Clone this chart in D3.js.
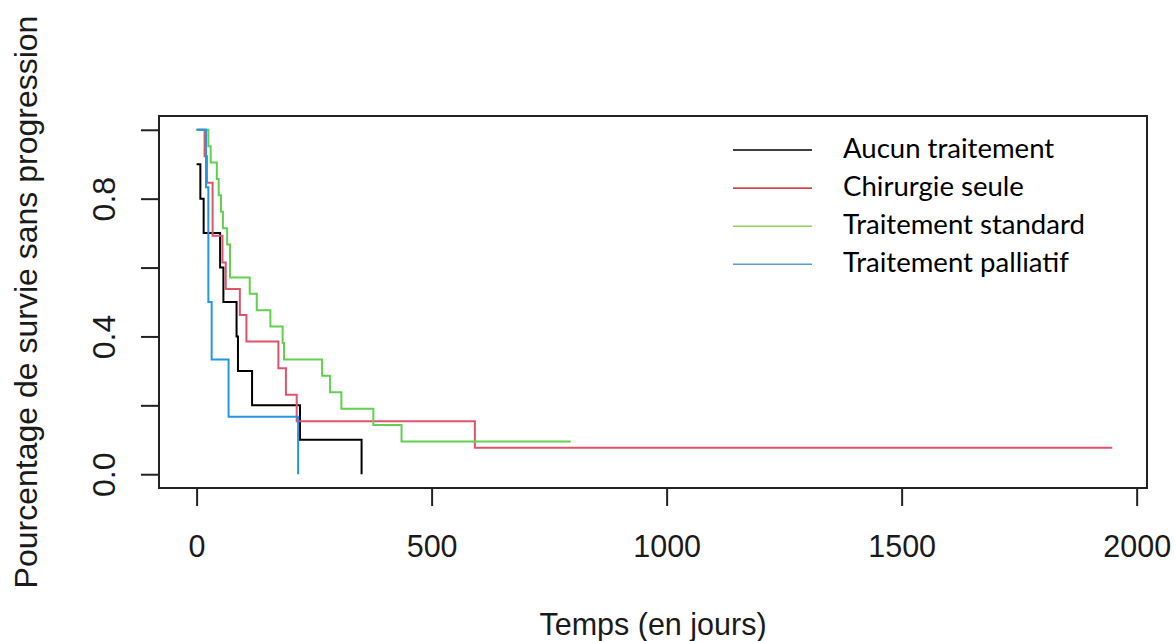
<!DOCTYPE html>
<html>
<head>
<meta charset="utf-8">
<script src="https://cdn.jsdelivr.net/npm/d3@7"></script>
<style>
    html, body { margin: 0; padding: 0; background: #ffffff; }
    svg { display: block; }
    .km__axis text { font-family: 'Liberation Sans', Arial, sans-serif; fill: #1a1a1a; }
    .km__axis line { stroke: #222222; stroke-width: 2; }
    .km__title { font-family: 'Liberation Sans', Arial, sans-serif; fill: #1a1a1a; }
    .km__legend text { font-family: Lato, 'Noto Sans', sans-serif; fill: #000000; }
</style>
</head>
<body>
<svg id="chart" width="1176" height="641"></svg>
<script>
// Kaplan-Meier curves (time in days, survival fraction)
const groups = ['Aucun traitement', 'Chirurgie seule', 'Traitement standard', 'Traitement palliatif'];

const timesAucun = [0, 8, 15, 50, 57, 85, 88, 118, 220, 351];
const survAucun = [0.9, 0.8, 0.7, 0.6, 0.5, 0.4, 0.3, 0.2, 0.1, 0];

const timesChirurgie = [0, 17, 22, 34, 55, 62, 92, 106, 174, 190, 213, 592, 1948];
const survChirurgie = [1, 0.923, 0.846, 0.692, 0.615, 0.538, 0.462, 0.385, 0.308, 0.231, 0.154, 0.077, 0.077];

const timesStandard = [0, 25, 30, 43, 47, 52, 56, 65, 71, 113, 128, 157, 183, 186, 267, 284, 308, 376, 436, 796];
const survStandard = [1, 0.952, 0.905, 0.857, 0.810, 0.762, 0.714, 0.667, 0.571, 0.524, 0.476, 0.429, 0.381, 0.333, 0.286, 0.238, 0.190, 0.143, 0.095, 0.095];

const timesPalliatif = [0, 20, 25, 32, 68, 216];
const survPalliatif = [1, 0.833, 0.5, 0.333, 0.167, 0];

const xTicks = [0, 500, 1000, 1500, 2000];
const yTicks = [0, 0.2, 0.4, 0.6, 0.8, 1];
const yTickLabels = ['0.0', '', '0.4', '', '0.8', ''];

const xLabel = 'Temps (en jours)';
const yLabel = 'Pourcentage de survie sans progression';

// R palette for the curves, Office-like colours for the pasted legend
const curveColors = ['#000000', '#DF536B', '#61D04F', '#2297E6'];
const legendColors = ['#000000', '#C00000', '#92D050', '#5B9BD5'];

class SurvivalChart {
    constructor(container) {
        this.svg = d3.select(container);
        this.series = [
            [timesAucun, survAucun],
            [timesChirurgie, survChirurgie],
            [timesStandard, survStandard],
            [timesPalliatif, survPalliatif],
        ].map(([times, surv], i) => ({
            name: groups[i],
            color: curveColors[i],
            points: times.map((t, j) => [t, surv[j]]),
        }));

        this.layout();
        this.render();
    }

    layout() {
        this.plot = { left: 159, right: 1147, top: 116, bottom: 488 };

        this.x = d3.scaleLinear()
            .domain([-80, 2022])
            .range([this.plot.left, this.plot.right]);

        this.y = d3.scaleLinear()
            .domain([-0.04, 1.04])
            .range([this.plot.bottom, this.plot.top]);
    }

    render() {
        const { left, right, top, bottom } = this.plot;

        this.svg.append('rect')
            .attr('width', 1176)
            .attr('height', 641)
            .attr('fill', '#ffffff');

        // axes (R style: ticks outside, no domain line, box drawn separately)
        this.svg.append('g')
            .attr('class', 'km__axis')
            .attr('transform', `translate(0,${bottom})`)
            .call(d3.axisBottom(this.x)
                .tickValues(xTicks)
                .tickSize(18)
                .tickFormat(d3.format('d')))
            .call(g => g.select('.domain').remove())
            .call(g => g.selectAll('text')
                .attr('y', 69)
                .attr('dy', '0')
                .style('font-size', '30.5px'));

        this.svg.append('g')
            .attr('class', 'km__axis')
            .attr('transform', `translate(${left},0)`)
            .call(d3.axisLeft(this.y)
                .tickValues(yTicks)
                .tickSize(18)
                .tickFormat((d, i) => yTickLabels[i]))
            .call(g => g.select('.domain').remove())
            .call(g => g.selectAll('text')
                .attr('x', 0)
                .attr('dy', '0')
                .attr('text-anchor', 'middle')
                .attr('transform', 'translate(-44,0) rotate(-90)')
                .style('font-size', '32px'));

        this.svg.append('rect')
            .attr('x', left)
            .attr('y', top)
            .attr('width', right - left)
            .attr('height', bottom - top)
            .attr('fill', 'none')
            .attr('stroke', '#222222')
            .attr('stroke-width', 2);

        // curves
        const line = d3.line()
            .x(d => this.x(d[0]))
            .y(d => this.y(d[1]))
            .curve(d3.curveStepAfter);

        this.svg.append('g')
            .selectAll('path')
            .data(this.series)
            .enter()
            .append('path')
            .attr('d', d => line(d.points))
            .attr('fill', 'none')
            .attr('stroke', d => d.color)
            .attr('stroke-width', 2);

        // axis titles
        this.svg.append('text')
            .attr('class', 'km__title')
            .attr('x', (left + right) / 2)
            .attr('y', bottom + 147)
            .attr('text-anchor', 'middle')
            .style('font-size', '30.5px')
            .text(xLabel);

        this.svg.append('text')
            .attr('class', 'km__title')
            .attr('transform', `translate(${left - 122},${(top + bottom) / 2}) rotate(-90)`)
            .attr('text-anchor', 'middle')
            .style('font-size', '32px')
            .text(yLabel);

        this.renderLegend();
    }

    renderLegend = () => {
        const x0 = 733,
            y0 = 150,
            step = 38.1;

        const container = this.svg
            .append('g')
            .attr('class', 'km__legend');

        container
            .selectAll('line')
            .data(groups)
            .enter()
            .append('line')
            .attr('x1', x0)
            .attr('x2', x0 + 79)
            .attr('y1', (d, i) => y0 + step * i)
            .attr('y2', (d, i) => y0 + step * i)
            .attr('stroke', (d, i) => legendColors[i])
            .attr('stroke-width', 1.4);

        const labels = container
            .selectAll('text')
            .data(groups)
            .enter()
            .append('text')
            .attr('x', x0 + 110)
            .attr('y', (d, i) => y0 + step * i + 8)
            .style('font-size', '24px')
            .text(d => d);

        // fit the font so the longest label is as wide as in the picture
        const widest = d3.max(labels.nodes(), n => n.getComputedTextLength());
        labels.style('font-size', `${(24 * 242 / widest).toFixed(2)}px`);
    };
}

new SurvivalChart('#chart');
</script>
</body>
</html>
